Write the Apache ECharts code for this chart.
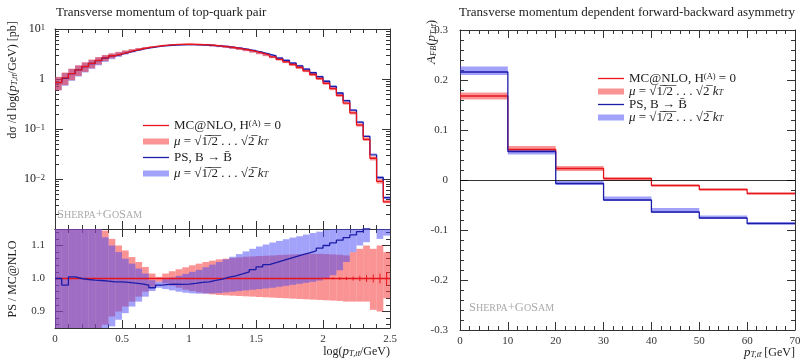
<!DOCTYPE html>
<html>
<head>
<meta charset="utf-8">
<script src="https://cdn.jsdelivr.net/npm/echarts@6/dist/echarts.min.js"></script>
<style>
html,body{margin:0;padding:0;background:#fff;}
#chart{width:804px;height:361px;}
</style>
</head>
<body>
<div id="chart"></div>
<script>
// bin edges of log(pT,tt/GeV)
var logBinEdges = [0, 0.05, 0.1, 0.15, 0.2, 0.25, 0.3, 0.35, 0.4, 0.45, 0.5, 0.55, 0.6, 0.65, 0.7, 0.75, 0.8, 0.85, 0.9, 0.95,
	1, 1.05, 1.1, 1.15, 1.2, 1.25, 1.3, 1.35, 1.4, 1.45, 1.5, 1.55, 1.6, 1.65, 1.7, 1.75, 1.8, 1.85, 1.9, 1.95,
	2, 2.05, 2.1, 2.15, 2.2, 2.25, 2.3, 2.35, 2.4, 2.45, 2.5];
// MC@NLO dsigma/dlog(pT) [pb]
var mcnloXs = [0.85, 1.05, 1.28, 1.52, 1.78, 2.05, 2.35, 2.65, 2.92, 3.18,
	3.45, 3.72, 3.98, 4.22, 4.45, 4.62, 4.76, 4.86, 4.92, 4.95,
	4.93, 4.88, 4.80, 4.70, 4.56, 4.40, 4.22, 4.02, 3.80, 3.56,
	3.30, 3.03, 2.76, 2.48, 2.21, 1.95, 1.70, 1.46, 1.23, 1.02,
	0.82, 0.64, 0.47, 0.33, 0.21, 0.12, 0.062, 0.026, 0.009, 0.0035];
// PS / MC@NLO
var psRatio = [1.0, 0.98, 1.005, 1.0, 0.997, 0.995, 0.994, 0.992, 0.99, 0.99,
	0.988, 0.986, 0.984, 0.98, 0.972, 0.98, 0.982, 0.983, 0.982, 0.983,
	0.985, 0.988, 0.99, 0.994, 0.998, 1.004, 1.008, 1.014, 1.02, 1.027,
	1.035, 1.042, 1.048, 1.054, 1.06, 1.066, 1.072, 1.078, 1.084, 1.092,
	1.10, 1.108, 1.116, 1.124, 1.132, 1.142, 1.152, 1.17, 1.19, 1.22];
// scale band of MC@NLO, relative to MC@NLO
var mcnloBandLo = [0.70, 0.72, 0.74, 0.76, 0.78, 0.80, 0.83, 0.86, 0.885, 0.90,
	0.915, 0.93, 0.945, 0.96, 0.975, 0.99, 0.985, 0.978, 0.972, 0.966,
	0.962, 0.958, 0.955, 0.952, 0.95, 0.949, 0.948, 0.947, 0.946, 0.945,
	0.944, 0.943, 0.942, 0.941, 0.94, 0.939, 0.938, 0.937, 0.936, 0.935,
	0.934, 0.933, 0.932, 0.93, 0.93, 0.93, 0.93, 0.905, 0.90, 0.94];
var mcnloBandHi = [1.30, 1.28, 1.26, 1.24, 1.22, 1.20, 1.17, 1.145, 1.12, 1.10,
	1.085, 1.065, 1.05, 1.035, 1.015, 1.005, 1.015, 1.022, 1.028, 1.034,
	1.04, 1.045, 1.05, 1.054, 1.058, 1.06, 1.062, 1.064, 1.066, 1.067,
	1.068, 1.069, 1.07, 1.071, 1.072, 1.073, 1.074, 1.075, 1.075, 1.075,
	1.074, 1.073, 1.072, 1.07, 1.08, 1.09, 1.10, 1.09, 1.10, 1.08];
// scale band of PS, relative to MC@NLO
var psBandLo = [0.70, 0.70, 0.72, 0.74, 0.76, 0.78, 0.80, 0.83, 0.855, 0.875,
	0.895, 0.915, 0.93, 0.945, 0.962, 0.972, 0.968, 0.964, 0.96, 0.957,
	0.955, 0.954, 0.954, 0.955, 0.956, 0.958, 0.96, 0.962, 0.964, 0.966,
	0.968, 0.97, 0.972, 0.975, 0.978, 0.981, 0.984, 0.987, 0.99, 0.994,
	1.0, 1.01, 1.025, 1.05, 1.08, 1.10, 1.11, 1.20, 1.12, 1.13];
var psBandHi = [1.28, 1.26, 1.24, 1.22, 1.19, 1.17, 1.15, 1.125, 1.10, 1.08,
	1.06, 1.045, 1.03, 1.015, 0.995, 0.99, 0.998, 1.003, 1.008, 1.014,
	1.02, 1.026, 1.034, 1.042, 1.05, 1.058, 1.066, 1.074, 1.082, 1.09,
	1.097, 1.103, 1.109, 1.114, 1.119, 1.124, 1.128, 1.133, 1.138, 1.142,
	1.147, 1.152, 1.16, 1.17, 1.18, 1.19, 1.20, 1.25, 1.25, 1.25];
// statistical error of MC@NLO ratio
var mcnloStatErr = [0, 0, 0, 0, 0, 0, 0, 0, 0, 0,
	0, 0, 0, 0, 0, 0, 0, 0, 0, 0,
	0, 0, 0, 0, 0, 0, 0, 0, 0, 0,
	0, 0, 0, 0, 0, 0, 0, 0, 0, 0,
	0.002, 0.003, 0.004, 0.005, 0.006, 0.008, 0.01, 0.012, 0.015, 0.02];

// A_FB vs pT,tt [GeV]
var afbBinEdges = [0, 10, 20, 30, 40, 50, 60, 70];
var mcnloAfb = [0.168, 0.061, 0.023, 0.003, -0.011, -0.019, -0.027];
var mcnloAfbLo = [0.161, 0.057, 0.018, -0.002, -0.013, -0.021, -0.029];
var mcnloAfbHi = [0.175, 0.068, 0.028, 0.005, -0.009, -0.017, -0.025];
var psAfb = [0.216, 0.057, -0.007, -0.040, -0.064, -0.076, -0.087];
var psAfbLo = [0.210, 0.051, -0.010, -0.042, -0.066, -0.078, -0.089];
var psAfbHi = [0.227, 0.061, -0.002, -0.033, -0.056, -0.071, -0.084];

var logTicks = [0.001, 0.01, 0.1, 1, 10];
var ratioTicks = [0.9, 1.0, 1.1];

var serif = '"Liberation Serif", "DejaVu Serif", serif';
var redLine = '#e8141c', blueLine = '#1c1ca8';
var redBand = 'rgba(245,60,60,0.55)', blueBand = 'rgba(70,70,245,0.5)';
var axisColor = '#333';

// rich styles: color for option texts, fill for graphic texts
var rich = {
	i: {fontStyle: 'italic', fontFamily: serif, fontSize: 13, color: '#222', fill: '#222'},
	n: {fontFamily: serif, fontSize: 13, color: '#222', fill: '#222'},
	t: {fontFamily: serif, fontSize: 12, color: '#222', fill: '#222'},
	sup: {fontFamily: serif, fontSize: 8.5, color: '#222', fill: '#222', verticalAlign: 'top', lineHeight: 12},
	sub: {fontFamily: serif, fontSize: 8.5, fontStyle: 'italic', color: '#222', fill: '#222', verticalAlign: 'bottom', padding: [4, 0, 0, 0]},
	b: {fontFamily: serif, fontSize: 12.5, color: '#aaa', fill: '#aaa'},
	s: {fontFamily: serif, fontSize: 10, color: '#aaa', fill: '#aaa'}
};

function stepData(edges, vals) {
	var d = [];
	for (var i = 0; i < vals.length; i++) d.push([edges[i], vals[i]]);
	d.push([edges[vals.length], vals[vals.length - 1]]);
	return d;
}
function bandData(edges, lo, hi, scale) {
	var d = [];
	for (var i = 0; i < lo.length; i++) {
		var f = scale ? scale[i] : 1;
		d.push([edges[i], edges[i + 1], lo[i] * f, hi[i] * f]);
	}
	return d;
}
function renderBand(params, api) {
	var p0 = api.coord([api.value(0), api.value(3)]);
	var p1 = api.coord([api.value(1), api.value(2)]);
	var cs = params.coordSys;
	var rect = echarts.graphic.clipRectByRect(
		{x: p0[0], y: p0[1], width: p1[0] - p0[0], height: p1[1] - p0[1]},
		{x: cs.x, y: cs.y, width: cs.width, height: cs.height});
	return rect && {type: 'rect', shape: rect, style: {fill: api.visual('color')}};
}
function renderErr(params, api) {
	var e = api.value(2);
	if (!e) return null;
	var x = (api.value(0) + api.value(1)) / 2;
	var a = api.coord([x, 1 - e]), b = api.coord([x, 1 + e]);
	return {type: 'line', shape: {x1: a[0], y1: a[1], x2: b[0], y2: b[1]}, style: {stroke: redLine, lineWidth: 1}};
}
function bandSeries(name, data, color, xi, yi) {
	return {name: name, type: 'custom', xAxisIndex: xi, yAxisIndex: yi, renderItem: renderBand,
		itemStyle: {color: color}, encode: {x: [0, 1], y: [2, 3]}, data: data, z: 1};
}
function lineSeries(name, data, color, xi, yi) {
	return {name: name, type: 'line', step: 'end', xAxisIndex: xi, yAxisIndex: yi, symbol: 'none',
		lineStyle: {color: color, width: 1.3}, itemStyle: {color: color}, data: data, z: 3};
}

function xAxis(grid, pos, min, max, interval, labels) {
	return {type: 'value', gridIndex: grid, position: pos, min: min, max: max, interval: interval,
		axisLine: {show: true, onZero: false, lineStyle: {color: axisColor, width: 1}},
		axisTick: {show: true, inside: true, length: 8, lineStyle: {color: axisColor}},
		minorTick: {show: true, splitNumber: 5, length: 4, lineStyle: {color: axisColor}},
		splitLine: {show: false},
		axisLabel: {show: labels, margin: 6, fontFamily: serif, fontSize: 11, color: '#333'}};
}

var minorLog = [];
for (var n = -3; n < 1; n++) for (var k = 2; k < 10; k++) minorLog.push(k * Math.pow(10, n));
var minorRatio = [0.86, 0.88, 0.92, 0.94, 0.96, 0.98, 1.02, 1.04, 1.06, 1.08, 1.12, 1.14];

function logFmt(v) {
	var e = Math.round(Math.log10(v));
	if (e === 0) return '{t|1}';
	if (e === -3) return '';
	return '{t|10}{sup|' + (e < 0 ? '\u2212' + (-e) : e) + '}';
}

var xAxes = [
	xAxis(0, 'bottom', 0, 2.5, 0.5, false),
	xAxis(0, 'top', 0, 2.5, 0.5, false),
	xAxis(1, 'bottom', 0, 2.5, 0.5, true),
	xAxis(1, 'top', 0, 2.5, 0.5, false),
	xAxis(2, 'bottom', 0, 70, 10, true),
	xAxis(2, 'top', 0, 70, 10, false)
];
xAxes[2].axisLabel.formatter = function (v) { return String(v); };

function yBase(grid, pos) {
	return {gridIndex: grid, position: pos,
		axisLine: {show: true, onZero: false, lineStyle: {color: axisColor, width: 1}},
		axisTick: {show: true, inside: true, length: 8, lineStyle: {color: axisColor}},
		splitLine: {show: false},
		axisLabel: {show: false}};
}
var yAxes = [];
// 0,1 log axes upper panel
[['left', true], ['right', false]].forEach(function (p) {
	var a = yBase(0, p[0]);
	a.type = 'log'; a.logBase = 10; a.min = 0.001; a.max = 10;
	a.axisTick.customValues = logTicks;
	a.axisLabel = {show: p[1], customValues: logTicks, formatter: logFmt, rich: rich, margin: 10, fontFamily: serif, fontSize: 11};
	yAxes.push(a);
});
// 2,3 minor ticks of log axes
['left', 'right'].forEach(function (p) {
	var a = yBase(0, p);
	a.type = 'log'; a.logBase = 10; a.min = 0.001; a.max = 10;
	a.axisLine.show = false;
	a.axisTick.length = 4; a.axisTick.customValues = minorLog;
	yAxes.push(a);
});
// 4,5 ratio axes
[['left', true], ['right', false]].forEach(function (p) {
	var a = yBase(1, p[0]);
	a.type = 'value'; a.min = 0.85; a.max = 1.15;
	a.axisTick.customValues = ratioTicks;
	a.axisLabel = {show: p[1], customValues: ratioTicks, margin: 10, fontFamily: serif, fontSize: 11, color: '#333',
		formatter: function (v) { return v.toFixed(1); }};
	yAxes.push(a);
});
// 6,7 ratio minor ticks
['left', 'right'].forEach(function (p) {
	var a = yBase(1, p);
	a.type = 'value'; a.min = 0.85; a.max = 1.15;
	a.axisLine.show = false;
	a.axisTick.length = 4; a.axisTick.customValues = minorRatio;
	yAxes.push(a);
});
// 8,9 A_FB axes
[['left', true], ['right', false]].forEach(function (p) {
	var a = yBase(2, p[0]);
	a.type = 'value'; a.min = -0.3; a.max = 0.3; a.interval = 0.1;
	a.minorTick = {show: true, splitNumber: 5, length: 4, lineStyle: {color: axisColor}};
	a.axisLabel = {show: p[1], margin: 12, fontFamily: serif, fontSize: 11, color: '#333'};
	yAxes.push(a);
});

var ratioOne = mcnloXs.map(function (v) { return v / v; });
var psXs = mcnloXs.map(function (v, i) { return v * psRatio[i]; });
var errData = mcnloStatErr.map(function (e, i) { return [logBinEdges[i], logBinEdges[i + 1], e]; });

var series = [
	bandSeries('psBand', bandData(logBinEdges, psBandLo, psBandHi, mcnloXs), blueBand, 0, 0),
	bandSeries('mcnloBand', bandData(logBinEdges, mcnloBandLo, mcnloBandHi, mcnloXs), redBand, 0, 0),
	lineSeries('ps', stepData(logBinEdges, psXs), blueLine, 0, 0),
	lineSeries('mcnlo', stepData(logBinEdges, mcnloXs), redLine, 0, 0),

	bandSeries('mcnloBand', bandData(logBinEdges, mcnloBandLo, mcnloBandHi), redBand, 2, 4),
	bandSeries('psBand', bandData(logBinEdges, psBandLo, psBandHi), blueBand, 2, 4),
	lineSeries('mcnlo', stepData(logBinEdges, ratioOne), redLine, 2, 4),
	{name: 'mcnlo', type: 'custom', xAxisIndex: 2, yAxisIndex: 4, renderItem: renderErr,
		encode: {x: [0, 1], y: 2}, data: errData, z: 4, itemStyle: {color: redLine}},
	lineSeries('ps', stepData(logBinEdges, psRatio), blueLine, 2, 4),

	bandSeries('mcnloBand', bandData(afbBinEdges, mcnloAfbLo, mcnloAfbHi), redBand, 4, 8),
	bandSeries('psBand', bandData(afbBinEdges, psAfbLo, psAfbHi), blueBand, 4, 8),
	lineSeries('mcnlo', stepData(afbBinEdges, mcnloAfb), redLine, 4, 8),
	lineSeries('ps', stepData(afbBinEdges, psAfb), blueLine, 4, 8)
];
series[11].markLine = {silent: true, symbol: 'none', label: {show: false},
	lineStyle: {color: '#000', width: 0.8, type: 'solid'}, data: [{yAxis: 0}]};
series[6].lineStyle.width = 1.4;

var legendText = {
	mcnlo: '{n|MC@NLO, H}{sup|(A)}{n| = 0}',
	mcnloBand: '{i|\u03bc}{n| = \u221a1\u0305/\u03052\u0305 . . . \u221a2\u0305 }{i|k}{sub|T}',
	ps: '{n|PS, B \u2192 B\u0304}',
	psBand: '{i|\u03bc}{n| = \u221a1\u0305/\u03052\u0305 . . . \u221a2\u0305 }{i|k}{sub|T}'
};
var lineIcon = 'path://M0,0H26V1.3H0Z';
function legend(left, top, gap) {
	return {left: left, top: top, orient: 'vertical', itemWidth: 26, itemHeight: 6, itemGap: gap,
		selectedMode: false, symbolKeepAspect: true,
		data: [{name: 'mcnlo', icon: lineIcon, itemStyle: {color: redLine}},
			{name: 'mcnloBand', icon: 'rect', itemStyle: {color: redBand}},
			{name: 'ps', icon: lineIcon, itemStyle: {color: blueLine}},
			{name: 'psBand', icon: 'rect', itemStyle: {color: blueBand}}],
		formatter: function (name) { return legendText[name]; },
		textStyle: {rich: rich, fontFamily: serif, fontSize: 13, lineHeight: 12}};
}

function gtext(x, y, text, opt) {
	opt = opt || {};
	return {type: 'text', x: x, y: y, rotation: opt.rot || 0,
		style: {text: text, rich: rich, fill: '#222', font: '13px ' + serif,
			align: opt.align || 'left', verticalAlign: opt.va || 'middle'}};
}

var option = {
	animation: false,
	backgroundColor: '#fff',
	grid: [
		{left: 55, top: 29, width: 335, height: 200},
		{left: 55, top: 229, width: 335, height: 99},
		{left: 460, top: 30, width: 335, height: 300}
	],
	xAxis: xAxes,
	yAxis: yAxes,
	legend: [legend(138, 114, 3), legend(593, 67, 0)],
	graphic: [
		gtext(56, 13, '{n|Transverse momentum of top-quark pair}'),
		gtext(459, 13, '{n|Transverse momentum dependent forward-backward asymmetry}'),
		gtext(13, 80, '{t|d\u03c3 /d log(}{i|p}{sub|T,tt\u0304}{t|/GeV) [pb]}', {rot: Math.PI / 2, align: 'center'}),
		gtext(13, 279, '{t|PS / MC@NLO}', {rot: Math.PI / 2, align: 'center'}),
		gtext(432, 42, '{i|A}{sub|FB}{t|(}{i|p}{sub|T,tt\u0304}{t|)}', {rot: Math.PI / 2, align: 'center'}),
		gtext(390, 352, '{t|log(}{i|p}{sub|T,tt\u0304}{t|/GeV)}', {align: 'right'}),
		gtext(795, 353, '{i|p}{sub|T,tt\u0304}{t| [GeV]}', {align: 'right'}),
		gtext(57, 215, '{b|S}{s|HERPA}{b|+G}{s|O}{b|S}{s|AM}'),
		gtext(469, 308, '{b|S}{s|HERPA}{b|+G}{s|O}{b|S}{s|AM}')
	],
	series: series
};

var chart = echarts.init(document.getElementById('chart'));
chart.setOption(option);
</script>
</body>
</html>
